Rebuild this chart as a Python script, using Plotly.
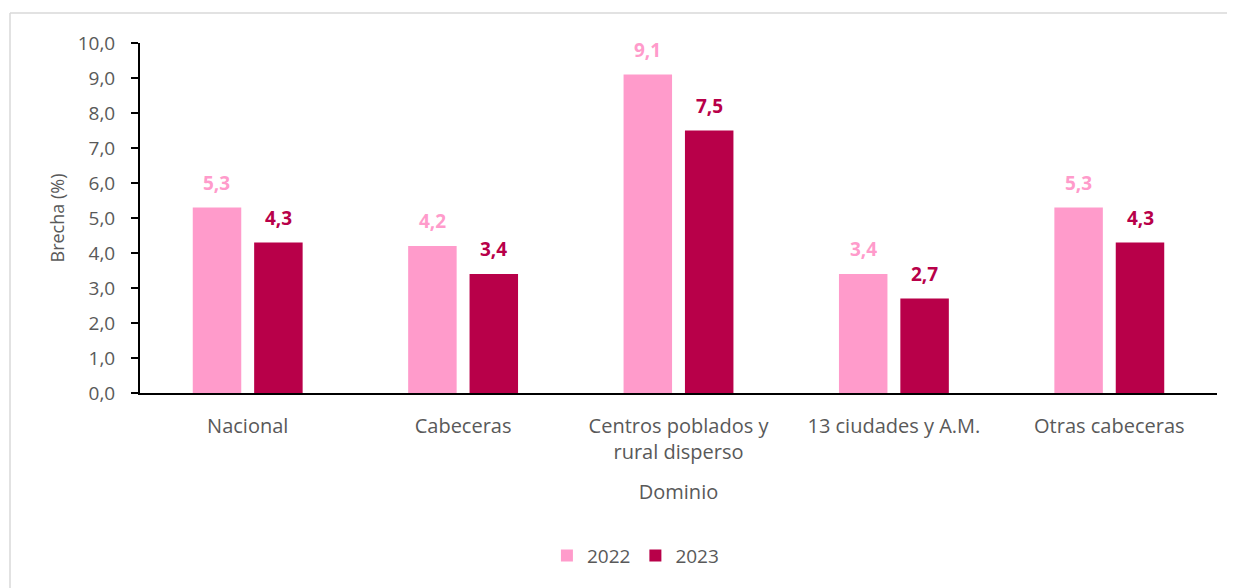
import plotly.graph_objects as go

categories = ["Nacional", "Cabeceras", "Centros poblados y<br>rural disperso", "13 ciudades y A.M.", "Otras cabeceras"]
years = ["2022", "2023"]
values_2022 = [5.3, 4.2, 9.1, 3.4, 5.3]
values_2023 = [4.3, 3.4, 7.5, 2.7, 4.3]
colors = ["#FF9BCB", "#B80049"]

FONT = "Open Sans"
GRAY = "#595959"

fig = go.Figure()
for name, vals, col in zip(years, [values_2022, values_2023], colors):
    fig.add_trace(go.Bar(x=categories, y=vals, name=name, marker=dict(color=col, line=dict(width=0))))

annotations = []
for vals, col, shift in zip([values_2022, values_2023], colors, [-30.75, 30.75]):
    for c, v in zip(categories, vals):
        annotations.append(dict(x=c, y=v, xref="x", yref="y", text=f"<b>{str(v).replace('.', ',')}</b>",
                                showarrow=False, xshift=shift, yshift=25,
                                font=dict(family=FONT, size=19, color=col)))

# plot area in page: x 140..1217, y 43..393 (page has 8px body margin)
fig.update_layout(
    width=1235, height=588,
    margin=dict(l=132, r=26, t=35, b=203, autoexpand=False),
    paper_bgcolor="white", plot_bgcolor="white",
    separators=",.",
    barmode="group", bargap=0.43, bargroupgap=0.21,
    font=dict(family=FONT, size=18, color=GRAY),
    showlegend=True,
    legend=dict(orientation="h", x=0.46, xanchor="center", y=-0.465, yanchor="middle",
                font=dict(family=FONT, size=19, color=GRAY), itemwidth=30, tracegroupgap=0),
    annotations=annotations,
    shapes=[
        dict(type="line", xref="paper", yref="paper", x0=-0.1207, x1=1.05, y0=1.0857, y1=1.0857,
             line=dict(color="#D9D9D9", width=1.5)),
        dict(type="line", xref="paper", yref="paper", x0=-0.1207, x1=-0.1207, y0=1.0857, y1=-0.6,
             line=dict(color="#D9D9D9", width=1.5)),
    ],
)
fig.update_yaxes(range=[0, 10], dtick=1, tickformat=".1f", showgrid=False, zeroline=False,
                 showline=True, linecolor="black", linewidth=2, ticks="outside", ticklen=7,
                 tickcolor="black", tickwidth=2, tickfont=dict(size=19, color=GRAY),
                 ticklabelstandoff=12,
                 title=dict(text="Brecha (%)", font=dict(size=18, color=GRAY), standoff=8))
fig.update_xaxes(showgrid=False, showline=True, linecolor="black", linewidth=2, ticks="",
                 tickfont=dict(size=20, color=GRAY), ticklabelstandoff=14,
                 title=dict(text="Dominio", font=dict(size=20, color=GRAY), standoff=21))

fig.write_html("out.html")
